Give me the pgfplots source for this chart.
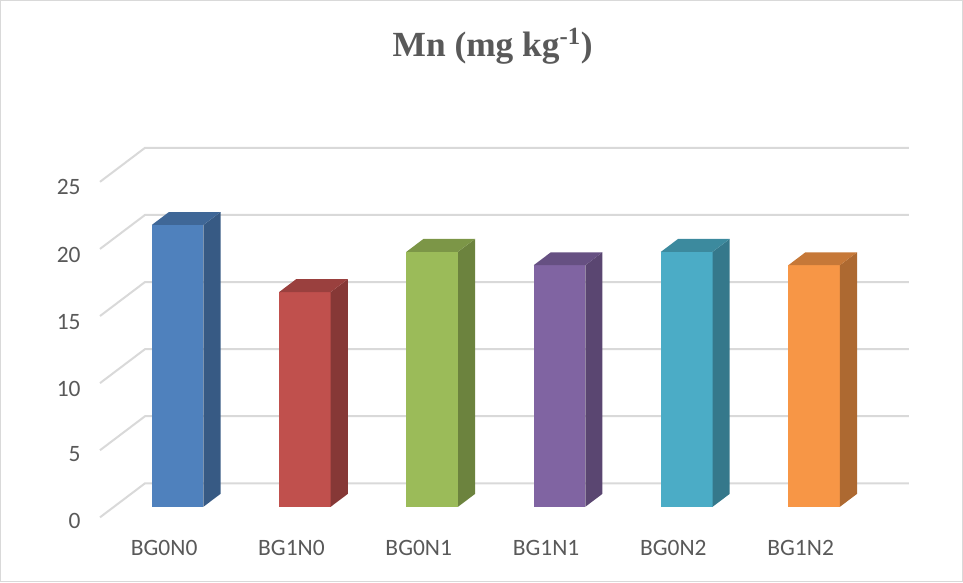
\documentclass[border=0pt]{standalone}
\usepackage{pgfplots}
\pgfplotsset{compat=1.18}
\usepackage{fontspec}
\setmainfont{Carlito}
\newfontfamily\titlefont{Liberation Serif}
\usetikzlibrary{calc}

\definecolor{tickgray}{HTML}{595959}
\definecolor{gridgray}{HTML}{D9D9D9}
\definecolor{framegray}{HTML}{D9D9D9}
\definecolor{cA}{HTML}{4F81BD}
\definecolor{cB}{HTML}{C0504D}
\definecolor{cC}{HTML}{9BBB59}
\definecolor{cD}{HTML}{8064A2}
\definecolor{cE}{HTML}{4BACC6}
\definecolor{cF}{HTML}{F79646}

% #1 left x, #2 right x, #3 value, #4 colour
\newcommand{\cuboid}[4]{%
  \addplot3[fill=#4, draw=none] coordinates {(#1,0.31,0) (#2,0.31,0) (#2,0.31,#3) (#1,0.31,#3)};
  \addplot3[fill=#4!70!black, draw=none] coordinates {(#2,0.31,0) (#2,0.69,0) (#2,0.69,#3) (#2,0.31,#3)};
  \addplot3[fill=#4!80!black, draw=none] coordinates {(#1,0.31,#3) (#2,0.31,#3) (#2,0.69,#3) (#1,0.69,#3)};
}

\begin{document}
\begin{tikzpicture}
\begin{axis}[
  x={(95.475pt,0pt)}, y={(33.75pt,25.5pt)}, z={(0pt,10.065pt)},
  xmin=-0.5, xmax=5.5, ymin=0, ymax=1, zmin=0, zmax=25,
  axis line style={draw=none}, tick style={draw=none},
  xtick={0,1,2,3,4,5},
  xticklabels={BG0N0,BG1N0,BG0N1,BG1N1,BG0N2,BG1N2},
  ytick=\empty,
  ztick={0,5,10,15,20,25},
  /pgf/number format/assume math mode=true,
  ticklabel style={font=\fontsize{17.6}{20}\selectfont, text=tickgray},
  xticklabel style={yshift=-14pt, xshift=5pt},
  zticklabel style={xshift=-11pt},
  clip=false, no markers,
]
% grid lines: front-left diagonal and back wall
\addplot3[gridgray, line width=1.5pt] coordinates {(-0.5,0,0) (-0.5,1,0) (5.5,1,0)};
\addplot3[gridgray, line width=1.5pt] coordinates {(-0.5,0,5) (-0.5,1,5) (5.5,1,5)};
\addplot3[gridgray, line width=1.5pt] coordinates {(-0.5,0,10) (-0.5,1,10) (5.5,1,10)};
\addplot3[gridgray, line width=1.5pt] coordinates {(-0.5,0,15) (-0.5,1,15) (5.5,1,15)};
\addplot3[gridgray, line width=1.5pt] coordinates {(-0.5,0,20) (-0.5,1,20) (5.5,1,20)};
\addplot3[gridgray, line width=1.5pt] coordinates {(-0.5,0,25) (-0.5,1,25) (5.5,1,25)};
% bars
\cuboid{-0.2027}{0.2027}{21}{cA}
\cuboid{0.7973}{1.2027}{16}{cB}
\cuboid{1.7973}{2.2027}{19}{cC}
\cuboid{2.7973}{3.2027}{18}{cD}
\cuboid{3.7973}{4.2027}{19}{cE}
\cuboid{4.7973}{5.2027}{18}{cF}
\coordinate (O) at (axis cs:-0.5,0,0);
\end{axis}
\pgfresetboundingbox
\path[use as bounding box] ($(O)+(-75pt,-48.5pt)$) rectangle ++(722.25pt,436.5pt);
\draw[framegray, line width=0.75pt] ($(O)+(-74.25pt,-47.75pt)$) rectangle ++(720.75pt,435pt);
\node[anchor=base, text=tickgray, font=\titlefont\bfseries\fontsize{26.5}{30}\selectfont]
  at ($(O)+(294.5pt,345.45pt)$) {Mn (mg kg\textsuperscript{-1})};
\end{tikzpicture}
\end{document}
